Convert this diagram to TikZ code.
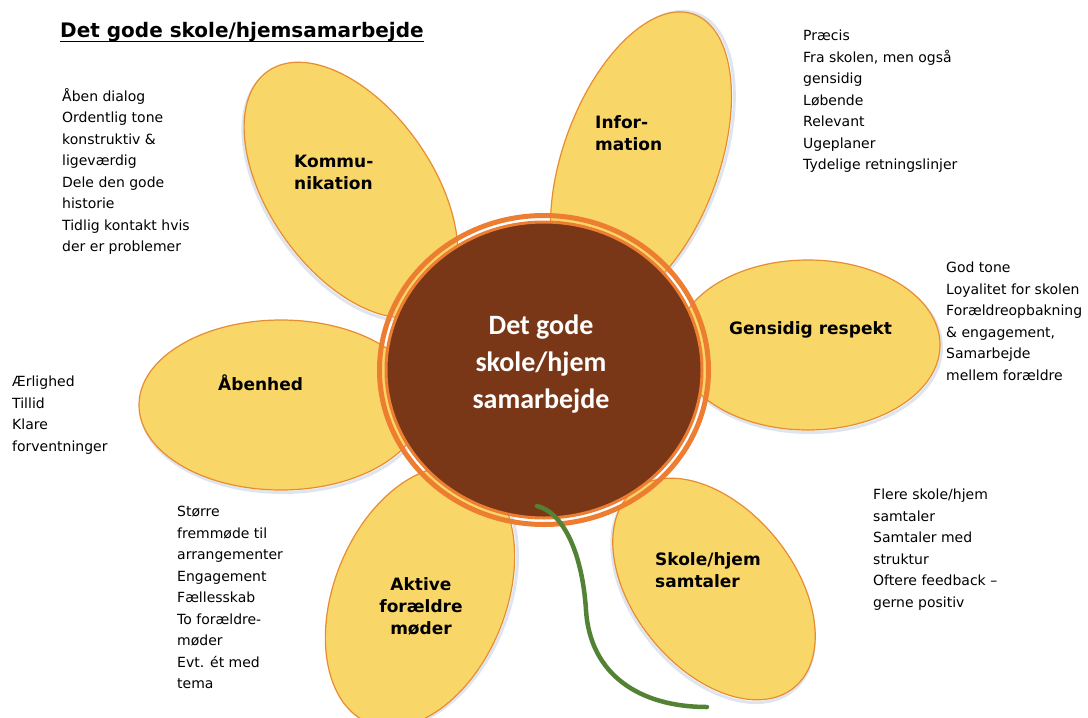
\documentclass[tikz,border=0pt]{standalone}
\usepackage{fontspec}
\setmainfont{DejaVu Sans}
\newfontfamily\corefont{Carlito}
\usetikzlibrary{positioning}

\begin{document}
\begin{tikzpicture}[x=1pt,y=-1pt]

  \definecolor{petcol}{RGB}{249,214,104}
  \definecolor{petline}{RGB}{232,140,50}
  \definecolor{ringcol}{RGB}{236,125,49}
  \definecolor{corecol}{RGB}{122,55,24}
  \definecolor{stemcol}{RGB}{84,130,53}
  \definecolor{shadcol}{RGB}{175,190,215}

  \tikzset{
      petstl/.style={fill=petcol,draw=petline,line width=1.2pt},
      shdstl/.style={draw=shadcol,line width=3pt,opacity=0.4},
      liststl/.style={align=left,inner sep=0pt,anchor=north west,
        execute at begin node=\strut,
        font=\fontsize{14}{21.5}\selectfont},
      labstl/.style={align=left,inner sep=0pt,anchor=north west,
        execute at begin node=\strut,
        font=\fontsize{17}{22}\selectfont\bfseries},
    }

  \newcommand{\petal}[4]{%
    \draw[shdstl,rotate around={#4:(#1)}] ([shift={(1.5,2.5)}]#1) ellipse (#2 and #3);
    \filldraw[petstl,rotate around={#4:(#1)}] (#1) ellipse (#2 and #3);
  }

  \useasboundingbox (0,0) rectangle (1088,718);

  %% petal centres
  \coordinate (pkom) at (351,190);
  \coordinate (pinf) at (641,160);
  \coordinate (pgen) at (808,345);
  \coordinate (pabn) at (281,405);
  \coordinate (pakt) at (420,597);
  \coordinate (psko) at (714,589);

  % centre of the flower
  \coordinate (core) at (544,370);

  \petal{pkom}{145}{82}{-55}
  \petal{pinf}{155}{78}{70}
  \petal{pgen}{132}{85}{0}
  \petal{pabn}{142}{85}{0}
  \petal{pakt}{136}{86}{68}
  \petal{psko}{127}{80}{-51}

  %% ring and core
  \draw[ringcol,line width=5pt] (core) ellipse (164.5 and 154.5);
  \filldraw[fill=corecol,draw=ringcol,line width=3pt] (core) ellipse (158 and 148);

  \node[text=white,align=center,inner sep=0pt,
    font=\corefont\bfseries\fontsize{28}{37}\selectfont] (coretxt) at (541,364)
    {Det gode\\skole/hjem\\samarbejde};

  % the stem
  \draw[stemcol,line width=4.5pt,line cap=round] (537,506)
    .. controls (562,512) and (582,550) .. (586,610)
    .. controls (590,675) and (640,707) .. (707,707);

  %% title
  \node[inner sep=0pt,anchor=base west,font=\fontsize{20}{24}\selectfont\bfseries]
    (title) at (60,37) {Det gode skole/hjemsamarbejde};
  \draw[line width=1.5pt] ([yshift=-4.5pt]title.base west) -- ([yshift=-4.5pt]title.base east);

  %% petal labels
  \node[labstl] (komlab) at (294,154.6) {Kommu-\\nikation};
  \node[labstl] (inflab) at (595,115.6) {Infor-\\mation};
  \node[labstl] (genlab) at (729,318.6) {Gensidig respekt};
  \node[labstl] (abnlab) at (218,374.6) {Åbenhed};
  \node[labstl,align=center,anchor=north] (aktlab) at (421,577.6) {Aktive\\forældre\\møder};
  \node[labstl] (skolab) at (655,552.6) {Skole/hjem\\samtaler};

  %% lists
  \node[liststl] (komtxt) at (62,88) {Åben dialog\\Ordentlig tone\\konstruktiv \&\\ligeværdig\\Dele den gode\\historie\\Tidlig kontakt hvis\\der er problemer};
  \node[liststl] (inftxt) at (803,30) {Præcis\\Fra skolen, men også\\gensidig\\Løbende\\Relevant\\Ugeplaner\\Tydelige retningslinjer};
  \node[liststl] (gentxt) at (946,262) {God tone\\Loyalitet for skolen\\Forældreopbakning\\\& engagement,\\Samarbejde\\mellem forældre};
  \node[liststl] (abntxt) at (12,376) {Ærlighed\\Tillid\\Klare\\forventninger};
  \node[liststl] (akttxt) at (177,506) {Større\\fremmøde til\\arrangementer\\Engagement\\Fællesskab\\To forældre-\\møder\\Evt. ét med\\tema};
  \node[liststl] (skotxt) at (873,489) {Flere skole/hjem\\samtaler\\Samtaler med\\struktur\\Oftere feedback –\\gerne positiv};

\end{tikzpicture}
\end{document}
